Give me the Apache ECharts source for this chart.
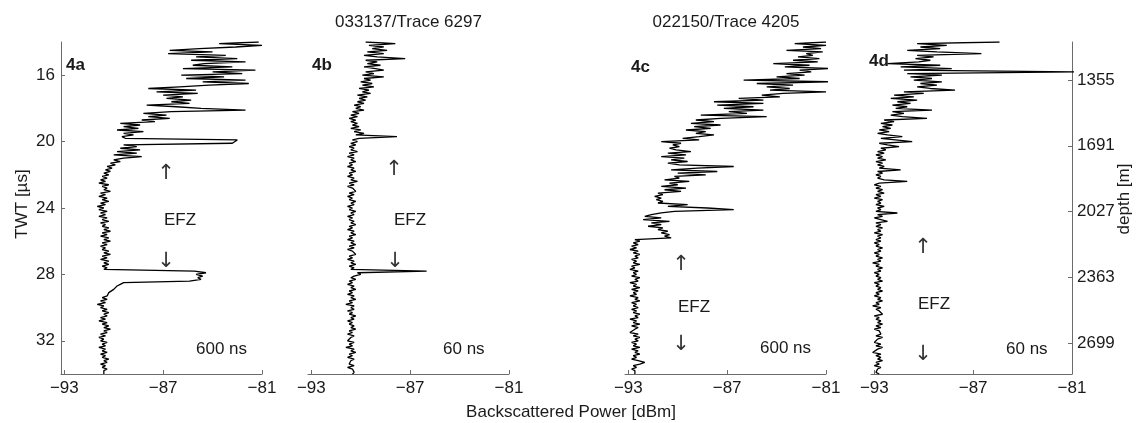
<!DOCTYPE html>
<html>
<head>
<meta charset="utf-8">
<script src="https://cdn.jsdelivr.net/npm/echarts@6/dist/echarts.min.js"></script>
<style>
  html, body { margin: 0; padding: 0; background: #fff; }
  #chart { width: 1137px; height: 423px; }
</style>
</head>
<body>
<div id="chart"></div>
<script>
// Radar traces: backscattered power (dBm) sampled every 0.1 µs of two-way travel time
const twtStart = 14.0;
const twtStep = 0.1;

// 4a: trace 6297, 600 ns pulse
const power4a = [
  -81.2, -83.6, -81.0, -82.6, -84.8, -86.6, -84.0, -86.7, -83.2, -85.0,
  -82.5, -85.3, -82.0, -84.5, -85.2, -82.8, -85.8, -81.4, -84.0, -82.2,
  -85.9, -83.3, -85.6, -82.0, -84.6, -81.8, -84.2, -86.0, -87.9, -85.0,
  -87.4, -84.9, -87.0, -85.8, -86.8, -85.3, -86.5, -85.4, -88.0, -86.2,
  -84.7, -82.0, -86.5, -88.2, -86.8, -87.9, -86.6, -88.3, -87.5, -89.6,
  -88.4, -89.4, -88.5, -89.8, -88.2, -89.4, -88.8, -89.5, -89.3, -82.5,
  -82.4, -82.8, -89.4, -88.6, -89.6, -88.4, -89.8, -88.6, -90.0, -88.3,
  -89.4, -90.0, -89.6, -90.2, -89.9, -90.4, -90.1, -90.5, -90.2, -90.6,
  -90.3, -90.7, -90.4, -90.8, -90.5, -90.9, -90.3, -90.7, -90.4, -90.6,
  -90.2, -90.8, -90.5, -90.9, -90.4, -90.7, -90.3, -90.8, -90.5, -91.0,
  -90.6, -90.9, -90.4, -90.8, -90.5, -90.9, -90.4, -90.7, -90.3, -90.8,
  -90.5, -90.7, -90.3, -90.6, -90.2, -90.7, -90.4, -90.8, -90.3, -90.6,
  -90.2, -90.7, -90.4, -90.8, -90.5, -90.7, -90.3, -90.6, -90.2, -90.7,
  -90.4, -90.8, -90.3, -90.6, -90.3, -90.7, -90.4, -90.6, -85.1, -84.4,
  -85.0, -84.6, -84.9, -84.7, -85.4, -89.4, -89.6, -89.8, -89.7, -90.0,
  -90.1, -90.3, -90.2, -90.4, -90.7, -90.4, -90.8, -90.5, -91.0, -90.6,
  -90.8, -90.4, -90.7, -90.3, -90.6, -90.4, -90.8, -90.5, -90.9, -90.4,
  -90.7, -90.3, -90.6, -90.2, -90.6, -90.4, -90.8, -90.5, -90.9, -90.6,
  -90.8, -90.4, -90.7, -90.5, -90.9, -90.5, -90.7, -90.4, -90.8, -90.5,
  -90.7, -90.3, -90.6, -90.4, -90.8, -90.5, -90.7, -90.4, -90.6, -90.5,
  -90.6
];

// 4b: trace 6297, 60 ns pulse
const power4b = [
  -89.7, -87.9, -89.5, -88.6, -89.3, -88.4, -89.6, -88.6, -89.8, -89.0,
  -87.3, -89.7, -89.0, -89.6, -88.8, -89.8, -89.1, -88.6, -89.7, -89.2,
  -89.9, -88.6, -89.8, -89.4, -90.0, -89.3, -89.9, -89.2, -90.1, -89.5,
  -89.9, -89.4, -90.2, -89.6, -90.1, -89.7, -90.2, -89.8, -90.4, -90.0,
  -90.3, -89.8, -90.5, -90.1, -90.6, -90.2, -90.7, -90.3, -90.6, -90.2,
  -90.5, -90.1, -90.6, -90.0, -90.4, -89.8, -90.3, -87.8, -90.1, -90.5,
  -90.2, -90.6, -90.3, -90.7, -90.4, -90.6, -90.2, -90.7, -90.4, -90.8,
  -90.4, -90.6, -90.3, -90.7, -90.5, -90.8, -90.4, -90.6, -90.3, -90.7,
  -90.5, -90.8, -90.4, -90.6, -90.2, -90.7, -90.4, -90.8, -90.5, -90.6,
  -90.3, -90.7, -90.4, -90.8, -90.5, -90.7, -90.3, -90.6, -90.4, -90.8,
  -90.5, -90.7, -90.3, -90.6, -90.4, -90.8, -90.5, -90.7, -90.4, -90.6,
  -90.3, -90.7, -90.5, -90.8, -90.4, -90.6, -90.3, -90.7, -90.5, -90.8,
  -90.4, -90.6, -90.3, -90.7, -90.4, -90.8, -90.5, -90.6, -90.3, -90.7,
  -90.5, -90.8, -90.4, -90.6, -90.3, -90.7, -90.4, -90.6, -86.0, -90.2,
  -90.0, -90.4, -90.6, -90.3, -90.7, -90.5, -90.8, -90.4, -90.6, -90.3,
  -90.7, -90.5, -90.8, -90.4, -90.6, -90.3, -90.7, -90.5, -90.9, -90.4,
  -90.6, -90.4, -90.8, -90.5, -90.7, -90.3, -90.6, -90.4, -90.8, -90.5,
  -90.7, -90.4, -90.6, -90.3, -90.7, -90.5, -90.8, -90.4, -90.6, -90.5,
  -90.8, -90.4, -90.7, -90.5, -90.9, -90.4, -90.6, -90.3, -90.7, -90.5,
  -90.8, -90.4, -90.6, -90.5, -90.7, -90.4, -90.8, -90.5, -90.6, -90.4,
  -90.5
];

// 4c: trace 4205, 600 ns pulse
const power4c = [
  -81.0, -82.9, -81.0, -82.4, -81.3, -83.4, -81.2, -82.2, -81.8, -82.7,
  -81.4, -83.0, -81.5, -84.2, -82.0, -83.5, -80.8, -82.6, -81.9, -83.4,
  -82.3, -84.0, -82.6, -86.0, -80.5, -85.2, -83.0, -84.6, -83.2, -84.4,
  -81.0, -83.6, -84.9, -83.8, -86.3, -84.8, -87.8, -84.8, -87.6, -85.4,
  -87.2, -84.8, -86.9, -85.8, -88.6, -84.6, -87.4, -88.9, -87.8, -89.2,
  -87.4, -89.0, -88.0, -89.5, -88.3, -88.9, -87.8, -88.7, -89.7, -88.7,
  -91.0, -89.8, -90.3, -89.9, -90.5, -90.1, -89.2, -90.6, -89.5, -91.0,
  -89.6, -90.4, -89.4, -90.6, -89.9, -86.6, -88.8, -90.4, -87.6, -90.0,
  -88.3, -90.2, -89.9, -90.8, -89.3, -90.5, -90.0, -91.0, -89.5, -90.8,
  -89.8, -91.2, -90.9, -91.4, -91.0, -91.3, -90.9, -91.2, -89.4, -90.6,
  -88.2, -86.6, -90.2, -91.0, -91.6, -92.0, -91.0, -92.1, -90.5, -91.6,
  -91.0, -91.8, -90.9, -91.2, -90.6, -91.0, -90.5, -90.8, -90.4, -92.6,
  -92.3, -92.7, -92.4, -92.8, -92.5, -92.9, -92.4, -92.7, -92.3, -92.6,
  -92.4, -92.8, -92.5, -92.7, -92.3, -92.8, -92.6, -92.9, -92.4, -92.7,
  -92.5, -92.8, -92.3, -92.6, -92.4, -92.9, -92.5, -92.7, -92.3, -92.8,
  -92.4, -92.7, -92.5, -92.9, -92.4, -92.6, -92.3, -92.8, -92.5, -92.7,
  -92.4, -92.8, -92.5, -92.7, -92.3, -92.6, -92.4, -92.9, -92.5, -92.7,
  -92.3, -92.8, -92.4, -92.6, -92.5, -92.9, -92.4, -92.7, -92.3, -92.6,
  -92.4, -92.8, -92.5, -92.7, -92.3, -92.8, -92.4, -92.6, -92.3, -92.7,
  -92.5, -92.8, -92.4, -92.0, -92.3, -92.7, -92.5, -92.8, -92.6, -92.7,
  -92.6
];

// 4d: trace 4205, 60 ns pulse
const power4d = [
  -85.4, -90.4, -88.6, -90.2, -89.0, -91.0, -89.2, -86.5, -90.4, -89.4,
  -90.5, -89.6, -90.3, -92.2, -89.0, -91.4, -88.3, -91.2, -80.5, -91.0,
  -88.9, -90.8, -89.5, -90.6, -88.9, -90.2, -89.2, -90.4, -89.6, -88.1,
  -91.2, -90.0, -91.8, -90.6, -92.0, -90.4, -91.6, -90.8, -91.9, -91.0,
  -91.7, -89.5, -91.9, -91.2, -92.0, -91.3, -89.8, -92.4, -91.8, -92.6,
  -91.9, -92.5, -92.0, -92.7, -92.1, -92.8, -92.2, -91.3, -92.6, -92.5,
  -90.7, -92.7, -92.2, -91.5, -92.6, -92.3, -92.8, -92.4, -92.9, -92.5,
  -92.8, -92.3, -92.9, -92.5, -92.8, -92.4, -92.7, -91.4, -92.8, -92.5,
  -92.9, -92.6, -92.8, -92.4, -91.0, -92.7, -93.0, -92.6, -92.9, -92.5,
  -92.8, -92.4, -92.9, -92.6, -93.0, -92.5, -92.8, -92.6, -92.9, -92.4,
  -92.8, -92.6, -92.9, -91.6, -92.8, -92.5, -93.0, -92.6, -92.2, -92.9,
  -92.6, -92.9, -92.5, -92.8, -92.6, -93.0, -92.5, -92.8, -92.6, -92.9,
  -92.6, -93.0, -92.7, -92.9, -92.5, -92.8, -92.6, -93.0, -92.7, -92.9,
  -92.5, -92.8, -92.6, -93.1, -92.7, -92.9, -92.5, -92.8, -92.6, -93.0,
  -92.7, -92.9, -92.6, -92.8, -92.5, -93.0, -92.7, -92.9, -92.6, -92.8,
  -92.5, -92.9, -92.7, -93.0, -92.6, -92.8, -92.5, -92.9, -92.7, -93.1,
  -92.6, -92.9, -92.7, -92.8, -92.5, -93.0, -92.7, -92.9, -92.6, -92.8,
  -92.5, -92.9, -92.6, -93.0, -92.7, -92.8, -92.6, -92.9, -92.5, -92.8,
  -92.7, -93.0, -92.6, -92.9, -92.5, -92.8, -92.7, -93.1, -92.6, -92.9,
  -92.6, -92.8, -92.5, -92.9, -92.7, -93.0, -92.6, -92.8, -92.7, -92.9,
  -92.7
];

const panelNames = ['4a', '4b', '4c', '4d'];
const pulseLabels = ['600 ns', '60 ns', '600 ns', '60 ns'];
const traceTitles = ['033137/Trace 6297', '022150/Trace 4205'];
const powerTicks = [-93, -87, -81];
const twtTicks = [16, 20, 24, 28, 32];
const depthTicks = [1355, 1691, 2027, 2363, 2699];

const traces = [power4a, power4b, power4c, power4d];

const FONT = '"Liberation Sans", Arial, Helvetica, sans-serif';
const ARROW_FONT = '21px "DejaVu Sans", sans-serif';
const TEXT = '#1a1a1a';
const AXIS = '#6b6b6b';
const gridLefts = [61, 308, 625, 871];
const GRID_TOP = 42, GRID_W = 201, GRID_H = 332;

const toSeriesData = (arr) =>
  arr.map((p, i) => [p, Math.round((twtStart + i * twtStep) * 100) / 100]);

const minusFmt = (v) => String(v).replace('-', '\u2212');
const plainFmt = (v) => String(v);

const grids = gridLefts.map((l) => ({ left: l, top: GRID_TOP, width: GRID_W, height: GRID_H }));

const xAxes = gridLefts.map((_, i) => ({
  type: 'value', gridIndex: i, min: -93.2, max: -81,
  axisLine: { show: true, onZero: false, lineStyle: { color: AXIS, width: 1 } },
  axisTick: { show: true, inside: true, length: 4, customValues: powerTicks, lineStyle: { color: AXIS } },
  axisLabel: { show: true, customValues: powerTicks, margin: 6, color: TEXT, fontSize: 17, fontFamily: FONT, formatter: minusFmt },
  splitLine: { show: false }
}));

const yAxes = gridLefts.map((_, i) => ({
  type: 'value', gridIndex: i, min: 14, max: 34, inverse: true,
  show: i === 0,
  axisLine: { show: true, onZero: false, lineStyle: { color: AXIS, width: 1 } },
  axisTick: { show: true, inside: true, length: 4, customValues: twtTicks, lineStyle: { color: AXIS } },
  axisLabel: { show: true, customValues: twtTicks, margin: 6, color: TEXT, fontSize: 17, fontFamily: FONT, formatter: plainFmt },
  splitLine: { show: false }
}));

// depth scale on the right of the last panel (m)
yAxes.push({
  type: 'value', gridIndex: 3, position: 'right', min: 1161, max: 2856, inverse: true,
  axisLine: { show: true, onZero: false, lineStyle: { color: AXIS, width: 1 } },
  axisTick: { show: true, inside: true, length: 4, customValues: depthTicks, lineStyle: { color: AXIS } },
  axisLabel: { show: true, customValues: depthTicks, margin: 5, color: TEXT, fontSize: 17, fontFamily: FONT, formatter: plainFmt },
  splitLine: { show: false }
});

const series = traces.map((arr, i) => ({
  type: 'line', xAxisIndex: i, yAxisIndex: i,
  data: toSeriesData(arr),
  symbol: 'none', showSymbol: false, clip: true, silent: true,
  lineStyle: { color: '#000', width: 1.3 },
  animation: false
}));

function txt(x, y, text, opts) {
  return Object.assign({
    type: 'text', x: x, y: y, silent: true,
    style: Object.assign({
      text: text, fill: TEXT, font: '17px ' + FONT, align: 'left', verticalAlign: 'middle'
    }, (opts && opts.style) || {})
  }, (opts && opts.el) || {});
}

const bold = { style: { font: 'bold 17px ' + FONT } };
const center = { style: { align: 'center' } };
const arrow = { style: { align: 'center', font: ARROW_FONT, fill: '#333' } };

const graphics = [
  // panel tags
  txt(66, 65, panelNames[0], bold),
  txt(312, 65.5, panelNames[1], bold),
  txt(631, 67.5, panelNames[2], bold),
  txt(869, 61, panelNames[3], bold),
  // trace titles
  txt(408.5, 22, traceTitles[0], center),
  txt(726, 22, traceTitles[1], center),
  // EFZ markers
  txt(166, 173.5, '\u2191', arrow), txt(164, 220, 'EFZ'), txt(166, 261.5, '\u2193', arrow),
  txt(394, 169.5, '\u2191', arrow), txt(394, 220, 'EFZ'), txt(395, 261.5, '\u2193', arrow),
  txt(681, 264.5, '\u2191', arrow), txt(678, 307.5, 'EFZ'), txt(681, 345, '\u2193', arrow),
  txt(923, 247.5, '\u2191', arrow), txt(918, 304.5, 'EFZ'), txt(923, 355, '\u2193', arrow),
  // pulse lengths
  txt(196, 349.5, pulseLabels[0]),
  txt(443, 349.5, pulseLabels[1]),
  txt(760, 348.5, pulseLabels[2]),
  txt(1006, 349.5, pulseLabels[3]),
  // axis titles
  txt(571, 412, 'Backscattered Power [dBm]', center),
  txt(22, 204, 'TWT [\u00b5s]', { style: { align: 'center' }, el: { rotation: Math.PI / 2 } }),
  txt(1124, 199, 'depth [m]', { style: { align: 'center' }, el: { rotation: Math.PI / 2 } })
];

const chart = echarts.init(document.getElementById('chart'), null, { renderer: 'canvas' });
chart.setOption({
  animation: false,
  backgroundColor: '#fff',
  grid: grids,
  xAxis: xAxes,
  yAxis: yAxes,
  series: series,
  graphic: graphics
});
</script>
</body>
</html>
